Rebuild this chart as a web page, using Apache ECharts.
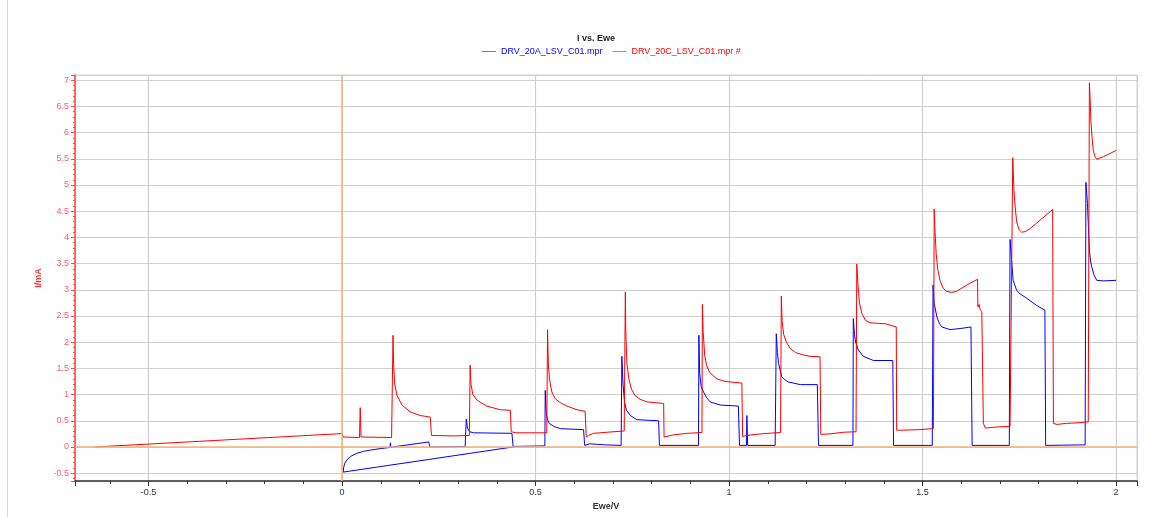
<!DOCTYPE html>
<html>
<head>
<meta charset="utf-8">
<script src="https://cdn.jsdelivr.net/npm/echarts@6/dist/echarts.min.js"></script>
<style>html,body{margin:0;padding:0;background:#fff;}#c{width:1159px;height:517px;}</style>
</head>
<body>
<div id="c"></div>
<script>
const titleText = 'I vs. Ewe';
const seriesNames = ['DRV_20A_LSV_C01.mpr', 'DRV_20C_LSV_C01.mpr #'];
const xName = 'Ewe/V';
const yName = 'I/mA';

// DRV_20A_LSV_C01.mpr  [Ewe/V, I/mA]
const blueData = [
[0.447,0.005],[0.003,-0.48],[0.004,-0.40],[0.007,-0.31],[0.012,-0.25],[0.022,-0.18],[0.039,-0.12],[0.055,-0.085],[0.073,-0.06],[0.1,-0.03],[0.124,-0.01],[0.125,0.08],[0.126,-0.005],[0.224,0.095],[0.227,0.0],[0.318,0.01],[0.321,0.53],[0.324,0.36],[0.33,0.29],[0.34,0.27],[0.439,0.26],[0.442,0.01],[0.524,0.02],
[0.525,1.08],[0.527,0.7],[0.529,0.57],[0.535,0.45],[0.548,0.39],[0.564,0.35],[0.624,0.33],[0.627,0.03],[0.64,0.06],[0.66,0.05],[0.68,0.04],[0.721,0.03],
[0.723,1.73],[0.726,1.2],[0.73,0.85],[0.735,0.7],[0.745,0.6],[0.762,0.52],[0.818,0.5],[0.82,0.03],[0.921,0.03],
[0.922,2.13],[0.924,1.4],[0.928,1.15],[0.934,1.05],[0.942,0.94],[0.951,0.86],[0.977,0.8],[1.024,0.78],[1.027,0.03],[1.045,0.03],[1.046,0.6],[1.048,0.03],[1.119,0.03],
[1.122,2.16],[1.125,1.8],[1.128,1.59],[1.136,1.34],[1.145,1.28],[1.153,1.24],[1.184,1.19],[1.228,1.19],[1.231,0.03],[1.32,0.03],
[1.321,2.45],[1.324,2.15],[1.327,2.0],[1.334,1.85],[1.347,1.73],[1.373,1.65],[1.423,1.65],[1.425,0.03],[1.525,0.03],
[1.526,1.56],[1.527,3.09],[1.53,2.74],[1.537,2.48],[1.543,2.36],[1.55,2.29],[1.571,2.24],[1.597,2.26],[1.625,2.29],[1.628,0.03],[1.724,0.03],
[1.726,3.96],[1.73,3.56],[1.734,3.18],[1.743,2.99],[1.752,2.92],[1.765,2.86],[1.795,2.7],[1.816,2.61],[1.818,0.03],[1.92,0.04],
[1.922,5.05],[1.926,4.65],[1.931,3.75],[1.934,3.55],[1.937,3.44],[1.943,3.28],[1.95,3.18],[1.967,3.17],[2.0,3.18]
];

// DRV_20C_LSV_C01.mpr #  [Ewe/V, I/mA]
const redData = [
[-0.637,0.0],[0.0,0.255],[0.003,0.19],[0.045,0.18],[0.046,0.18],[0.047,0.75],[0.049,0.19],[0.128,0.18],
[0.1317,2.13],[0.133,1.59],[0.136,1.2],[0.142,0.98],[0.155,0.8],[0.176,0.67],[0.202,0.6],[0.228,0.57],[0.231,0.22],[0.236,0.2],[0.29,0.21],[0.329,0.22],
[0.331,1.56],[0.333,1.2],[0.338,1.0],[0.349,0.89],[0.374,0.78],[0.409,0.71],[0.435,0.70],[0.437,0.29],[0.45,0.27],[0.529,0.27],
[0.531,2.24],[0.533,1.6],[0.536,1.3],[0.542,1.05],[0.551,0.92],[0.565,0.84],[0.581,0.78],[0.607,0.71],[0.628,0.68],[0.631,0.19],[0.637,0.22],[0.65,0.26],[0.684,0.28],[0.729,0.305],
[0.732,2.96],[0.733,2.23],[0.736,1.6],[0.741,1.3],[0.748,1.1],[0.757,0.98],[0.77,0.91],[0.788,0.86],[0.831,0.83],[0.832,0.19],[0.856,0.23],[0.891,0.26],[0.93,0.275],
[0.931,2.72],[0.933,2.2],[0.937,1.75],[0.942,1.55],[0.95,1.42],[0.968,1.3],[0.99,1.25],[1.033,1.22],[1.035,0.2],[1.046,0.22],[1.089,0.255],[1.133,0.275],
[1.135,2.88],[1.137,2.4],[1.141,2.15],[1.148,2.0],[1.158,1.88],[1.172,1.8],[1.19,1.76],[1.209,1.73],[1.235,1.72],[1.237,0.24],[1.261,0.25],[1.295,0.28],[1.328,0.29],
[1.33,3.49],[1.333,3.1],[1.337,2.75],[1.343,2.55],[1.352,2.42],[1.364,2.37],[1.385,2.36],[1.405,2.35],[1.432,2.29],[1.433,0.32],[1.45,0.32],[1.49,0.33],[1.528,0.35],
[1.53,4.54],[1.532,4.14],[1.535,3.7],[1.539,3.4],[1.545,3.18],[1.553,3.03],[1.562,2.97],[1.575,2.95],[1.588,2.97],[1.614,3.09],[1.642,3.2],[1.643,2.67],[1.646,2.72],[1.649,2.62],[1.653,2.58],[1.657,0.45],[1.662,0.36],[1.666,0.36],[1.69,0.38],[1.726,0.395],
[1.733,5.52],[1.736,4.9],[1.739,4.6],[1.743,4.3],[1.749,4.15],[1.756,4.1],[1.765,4.11],[1.778,4.17],[1.807,4.35],[1.836,4.53],[1.838,0.45],[1.847,0.43],[1.872,0.45],[1.9,0.46],[1.928,0.48],
[1.931,6.95],[1.933,6.62],[1.935,6.2],[1.938,5.9],[1.941,5.66],[1.945,5.55],[1.95,5.49],[1.967,5.54],[2.0,5.66]
];

const xRange = [-0.69, 2.054];
const yRange = [-0.65, 7.1];
const seriesColors = ['#0000ff', '#ff0000'];
const legendLineColors = ['#6a6aff', '#ff6a6a'];

const chart = echarts.init(document.getElementById('c'), null, {renderer: 'canvas'});
const font = '"Liberation Sans", Arial, sans-serif';
chart.setOption({
  animation: false,
  backgroundColor: '#ffffff',
  textStyle: {fontFamily: font},
  title: {
    text: titleText, left: 572, top: 29,
    textStyle: {fontSize: 9, fontWeight: 'bold', color: '#222', fontFamily: font}
  },
  legend: {
    left: 477, top: 42, icon: 'rect', itemWidth: 14, itemHeight: 1, itemGap: 10,
    data: [
      {name: seriesNames[0], textStyle: {color: seriesColors[0]}, itemStyle: {color: legendLineColors[0]}},
      {name: seriesNames[1], textStyle: {color: seriesColors[1]}, itemStyle: {color: legendLineColors[1]}}
    ],
    textStyle: {fontSize: 9, fontFamily: font}
  },
  graphic: [{
    type: 'line', shape: {x1: 7.5, y1: 0, x2: 7.5, y2: 517},
    style: {stroke: '#d8d8d8', lineWidth: 1}, silent: true
  }],
  grid: {
    left: 75, top: 75, right: 22, bottom: 36,
    show: true, borderColor: '#d6d6d6', borderWidth: 1
  },
  xAxis: {
    type: 'value', min: xRange[0], max: xRange[1],
    minInterval: 0.5, maxInterval: 0.5, splitNumber: 5,
    name: xName, nameLocation: 'middle', nameGap: 19,
    nameTextStyle: {fontSize: 9, fontWeight: 'bold', color: '#333', fontFamily: font},
    axisLine: {onZero: false, lineStyle: {color: '#333', width: 1.5}},
    axisTick: {show: true, length: 5, lineStyle: {color: '#333'}},
    minorTick: {show: true, splitNumber: 5, length: 3, lineStyle: {color: '#333'}},
    axisLabel: {showMinLabel: false, showMaxLabel: false, fontSize: 9, color: '#333', margin: 7},
    splitLine: {show: true, lineStyle: {color: '#cfcfcf', width: 1.2}}
  },
  yAxis: {
    type: 'value', min: yRange[0], max: yRange[1],
    minInterval: 0.5, maxInterval: 0.5, splitNumber: 15,
    name: yName, nameLocation: 'middle', nameGap: 27,
    nameTextStyle: {fontSize: 9, fontWeight: 'bold', color: '#ff3030', fontFamily: font},
    axisLine: {show: true, onZero: false, lineStyle: {color: '#ff4a4a', width: 1.5}},
    axisTick: {show: true, length: 4, lineStyle: {color: '#ff4a4a'}},
    minorTick: {show: true, splitNumber: 5, length: 2, lineStyle: {color: '#ff4a4a'}},
    axisLabel: {showMinLabel: false, showMaxLabel: false, fontSize: 9, color: '#ff6060', margin: 6},
    splitLine: {show: true, lineStyle: {color: '#cfcfcf', width: 1.2}}
  },
  series: [
    {
      name: seriesNames[0], type: 'line', data: blueData, showSymbol: false, symbol: 'none',
      lineStyle: {color: seriesColors[0], width: 1}, itemStyle: {color: seriesColors[0]}, z: 3,
      markLine: {
        silent: true, symbol: 'none', label: {show: false},
        lineStyle: {color: '#f7b27a', width: 1.5, type: 'solid'},
        data: [{xAxis: 0}, {yAxis: 0}]
      }
    },
    {
      name: seriesNames[1], type: 'line', data: redData, showSymbol: false, symbol: 'none',
      lineStyle: {color: seriesColors[1], width: 1}, itemStyle: {color: seriesColors[1]}, z: 4
    }
  ]
});
</script>
</body>
</html>
